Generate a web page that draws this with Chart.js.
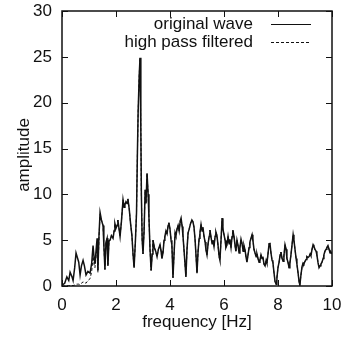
<!DOCTYPE html>
<html>
<head>
<meta charset="utf-8">
<script src="https://cdn.jsdelivr.net/npm/chart.js@4/dist/chart.umd.min.js"></script>
<style>
  html, body { margin: 0; padding: 0; background: #fff; }
  #wrap { width: 343px; height: 344px; }
</style>
</head>
<body>
<div id="wrap"><canvas id="spectrum" width="343" height="344"></canvas></div>
<script>
// --- Data ---
const freq = [
  0.00, 0.10, 0.18, 0.25, 0.30, 0.37, 0.41, 0.47, 0.52, 0.58, 0.62, 0.67, 0.72, 0.78, 0.83, 0.89, 0.96, 1.04, 1.10, 1.15,
  1.19, 1.22, 1.26, 1.30, 1.33, 1.37, 1.41, 1.46, 1.52, 1.55, 1.59, 1.63, 1.67, 1.70, 1.74, 1.78, 1.83, 1.89, 1.93, 1.96,
  2.00, 2.04, 2.07, 2.11, 2.15, 2.20, 2.26, 2.30, 2.33, 2.37, 2.41, 2.44, 2.49, 2.54, 2.59, 2.63, 2.67, 2.72, 2.76, 2.79,
  2.82, 2.86, 2.89, 2.92, 2.94, 2.97, 3.00, 3.04, 3.08, 3.11, 3.15, 3.19, 3.22, 3.26, 3.30, 3.34, 3.37, 3.42, 3.47, 3.52,
  3.57, 3.63, 3.67, 3.70, 3.74, 3.78, 3.81, 3.85, 3.89, 3.93, 3.96, 4.00, 4.04, 4.07, 4.11, 4.15, 4.19, 4.22, 4.26, 4.30,
  4.34, 4.38, 4.41, 4.45, 4.48, 4.53, 4.59, 4.63, 4.67, 4.71, 4.76, 4.81, 4.85, 4.89, 4.93, 4.97, 5.00, 5.04, 5.08, 5.11,
  5.15, 5.19, 5.22, 5.26, 5.30, 5.33, 5.37, 5.41, 5.45, 5.48, 5.52, 5.56, 5.59, 5.63, 5.67, 5.70, 5.74, 5.78, 5.82, 5.85,
  5.89, 5.93, 5.96, 6.00, 6.04, 6.07, 6.11, 6.15, 6.19, 6.22, 6.26, 6.30, 6.33, 6.37, 6.41, 6.44, 6.48, 6.52, 6.56, 6.59,
  6.63, 6.67, 6.71, 6.74, 6.78, 6.82, 6.85, 6.89, 6.93, 6.96, 7.00, 7.04, 7.07, 7.11, 7.15, 7.19, 7.22, 7.26, 7.30, 7.33,
  7.37, 7.41, 7.44, 7.48, 7.52, 7.56, 7.59, 7.63, 7.67, 7.70, 7.74, 7.78, 7.81, 7.85, 7.89, 7.93, 7.96, 8.00, 8.04, 8.08,
  8.11, 8.15, 8.19, 8.22, 8.26, 8.30, 8.33, 8.37, 8.41, 8.44, 8.48, 8.52, 8.56, 8.59, 8.63, 8.67, 8.70, 8.74, 8.78, 8.81,
  8.85, 8.89, 8.93, 8.96, 9.00, 9.04, 9.07, 9.11, 9.15, 9.19, 9.22, 9.26, 9.30, 9.33, 9.37, 9.41, 9.44, 9.48, 9.52, 9.56,
  9.59, 9.63, 9.67, 9.70, 9.74, 9.78, 9.81, 9.85, 9.89, 9.93, 9.96, 10.00];

const originalWave = [
  0.1, 0.3, 1.0, 0.6, 1.5, 1.0, 0.6, 2.0, 3.6, 3.0, 2.6, 1.2, 2.2, 2.8, 2.2, 1.2, 1.6, 1.4, 2.5, 4.4,
  3.0, 2.4, 3.8, 5.2, 1.7, 5.5, 8.0, 7.2, 6.6, 4.5, 1.8, 4.8, 5.2, 2.2, 4.9, 5.0, 5.5, 5.2, 6.0, 6.8,
  6.3, 6.6, 7.2, 6.3, 5.4, 7.0, 9.4, 8.6, 8.9, 9.2, 9.0, 9.5, 8.4, 6.8, 5.5, 3.5, 2.0, 5.0, 8.0, 14.0,
  19.0, 23.0, 24.9, 17.0, 10.0, 5.0, 3.5, 6.0, 10.5, 9.0, 12.3, 10.0, 7.5, 4.0, 1.7, 3.5, 5.0, 4.2, 3.8, 3.2,
  4.0, 4.5, 3.8, 3.0, 3.6, 5.0, 5.4, 6.0, 5.7, 6.6, 6.9, 6.2, 5.0, 4.5, 0.9, 3.5, 5.8, 5.5, 6.2, 6.6,
  6.0, 7.1, 7.4, 6.5, 5.5, 3.5, 1.0, 4.0, 5.8, 6.2, 6.8, 7.2, 7.0, 6.4, 5.0, 3.0, 1.4, 3.8, 5.2, 5.8,
  6.7, 6.0, 6.4, 5.4, 4.8, 4.0, 3.4, 4.6, 5.4, 6.1, 5.3, 4.6, 5.0, 4.3, 5.4, 5.9, 5.5, 4.4, 3.2, 2.8,
  5.0, 7.4, 6.2, 5.6, 5.0, 4.2, 4.5, 5.4, 4.6, 5.1, 4.2, 5.4, 6.1, 5.4, 4.4, 3.8, 5.0, 4.4, 3.6, 4.2,
  5.1, 4.6, 3.8, 4.4, 3.9, 3.1, 2.6, 3.4, 4.2, 4.8, 5.2, 5.6, 5.0, 4.0, 3.6, 3.2, 3.5, 3.0, 2.6, 2.8,
  3.4, 3.0, 3.2, 2.4, 2.2, 2.8, 2.5, 3.5, 4.6, 4.7, 3.6, 2.8, 2.6, 1.5, 0.5, 0.2, 0.9, 2.0, 2.6, 3.4,
  3.7, 3.0, 2.7, 3.3, 4.5, 4.0, 3.0, 2.6, 2.0, 2.5, 3.4, 4.5, 5.6, 5.0, 4.0, 3.0, 2.4, 1.5, 0.5, 0.1,
  1.2, 2.1, 2.5, 2.4, 2.7, 2.9, 3.2, 3.1, 3.2, 3.5, 3.3, 4.0, 4.5, 4.3, 4.0, 3.8, 3.4, 2.6, 2.0, 2.2,
  2.4, 2.6, 3.0, 3.4, 3.8, 4.0, 4.2, 4.4, 4.0, 3.6, 3.7, 3.5];

// high pass filtered: the low band (0 - 1.41 Hz) is suppressed,
// above it the trace sits under the original one
const highPassLowBand = [
  0.0, 0.0, 0.02, 0.02, 0.05, 0.05, 0.05, 0.1, 0.2, 0.2, 0.2, 0.15, 0.3, 0.45, 0.4, 0.3, 0.6, 0.8, 1.6, 3.2,
  2.3, 2.0, 3.2, 4.6, 1.5, 5.2, 7.8];
const highPassFiltered = highPassLowBand.concat(originalWave.slice(highPassLowBand.length));

const seriesLabels = ['original wave', 'high pass filtered'];
const xTicks = [0, 2, 4, 6, 8, 10];
const yTicks = [0, 5, 10, 15, 20, 25, 30];

const FONT = { family: 'Liberation Sans, Arial, Helvetica, sans-serif', size: 17 };
const INK = '#111';

function toPoints(ys) {
  return ys.map((y, i) => ({ x: freq[i], y: y }));
}

// gnuplot-like frame: box, inward ticks on all four sides, legend top right
const framePlugin = {
  id: 'frame',
  afterDraw(chart) {
    const ctx = chart.ctx;
    const { left, right, top, bottom } = chart.chartArea;
    const xs = chart.scales.x, ys = chart.scales.y;
    const len = 6;
    ctx.save();
    ctx.strokeStyle = INK;
    ctx.lineWidth = 1.5;
    ctx.strokeRect(left, top, right - left, bottom - top);
    ctx.lineWidth = 1;
    ctx.beginPath();
    xTicks.forEach(v => {
      const px = Math.round(xs.getPixelForValue(v)) + 0.5;
      ctx.moveTo(px, bottom); ctx.lineTo(px, bottom - len);
      ctx.moveTo(px, top); ctx.lineTo(px, top + len);
    });
    yTicks.forEach(v => {
      const py = Math.round(ys.getPixelForValue(v)) + 0.5;
      ctx.moveTo(left, py); ctx.lineTo(left + len, py);
      ctx.moveTo(right, py); ctx.lineTo(right - len, py);
    });
    ctx.stroke();

    ctx.font = FONT.size + 'px ' + FONT.family;
    ctx.fillStyle = INK;

    // y axis title, placed like gnuplot does (a bit below centre)
    ctx.save();
    ctx.translate(24, 155);
    ctx.rotate(-Math.PI / 2);
    ctx.textAlign = 'center';
    ctx.textBaseline = 'middle';
    ctx.fillText('amplitude', 0, 0);
    ctx.restore();

    // legend
    ctx.textAlign = 'right';
    ctx.textBaseline = 'middle';
    const textX = 253, lineX0 = 271, lineX1 = 311;
    chart.data.datasets.forEach((ds, i) => {
      const y = 24 + i * 18;
      ctx.fillText(ds.label, textX, y);
      ctx.beginPath();
      ctx.setLineDash(ds.borderDash || []);
      ctx.lineWidth = 1.2;
      ctx.moveTo(lineX0, y + 0.5); ctx.lineTo(lineX1, y + 0.5);
      ctx.stroke();
    });
    ctx.restore();
  }
};

new Chart(document.getElementById('spectrum'), {
  type: 'line',
  data: {
    datasets: [
      {
        label: seriesLabels[0],
        data: toPoints(originalWave),
        borderColor: INK,
        borderWidth: 1.5,
        pointRadius: 0,
        tension: 0
      },
      {
        label: seriesLabels[1],
        data: toPoints(highPassFiltered),
        borderColor: INK,
        borderWidth: 1,
        borderDash: [3, 2],
        pointRadius: 0,
        tension: 0
      }
    ]
  },
  options: {
    responsive: false,
    animation: false,
    events: [],
    layout: { padding: { top: 11, right: 11, left: 0, bottom: 0 } },
    plugins: { legend: { display: false }, tooltip: { enabled: false } },
    scales: {
      x: {
        type: 'linear',
        min: 0, max: 10,
        afterBuildTicks(scale) { scale.ticks = xTicks.map(v => ({ value: v })); },
        afterFit(scale) {
          scale.height = 58;
          scale.paddingLeft = 0;
          scale.paddingRight = 0;
        },
        grid: { display: false, drawTicks: false },
        border: { display: false },
        ticks: { color: INK, font: FONT, padding: 9, maxRotation: 0 },
        title: { display: true, text: 'frequency [Hz]', color: INK, font: FONT, padding: { top: 0, bottom: 11 } }
      },
      y: {
        min: 0, max: 30,
        afterBuildTicks(scale) { scale.ticks = yTicks.map(v => ({ value: v })); },
        afterFit(scale) {
          scale.width = 62;
          scale.paddingTop = 0;
          scale.paddingBottom = 0;
        },
        grid: { display: false, drawTicks: false },
        border: { display: false },
        ticks: { color: INK, font: FONT, padding: 10 },
        title: { display: false }
      }
    }
  },
  plugins: [framePlugin]
});
</script>
</body>
</html>
